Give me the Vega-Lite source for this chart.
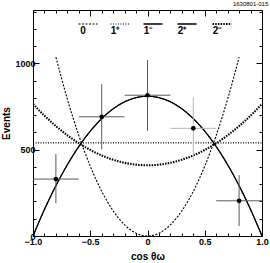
{
  "$schema": "https://vega.github.io/schema/vega-lite/v6.json",
  "width": 229,
  "height": 226,
  "autosize": {"type": "none"},
  "padding": {"left": 33, "top": 10, "right": 8, "bottom": 27},
  "background": "white",
  "config": {
    "view": {"stroke": "black", "strokeWidth": 1},
    "font": "Liberation Sans"
  },
  "title": {"text": "1630801-015", "anchor": "end", "fontSize": 6, "fontWeight": "normal", "offset": 1, "color": "black"},
  "datasets": {
    "curves": [
      {"x": -0.8, "y": 1036.8, "h": "0"}, {"x": -0.7, "y": 793.8, "h": "0"}, {"x": -0.6, "y": 583.2, "h": "0"}, {"x": -0.5, "y": 405, "h": "0"}, {"x": -0.4, "y": 259.2, "h": "0"}, {"x": -0.3, "y": 145.8, "h": "0"}, {"x": -0.2, "y": 64.8, "h": "0"}, {"x": -0.1, "y": 16.2, "h": "0"}, {"x": 0, "y": 0, "h": "0"}, {"x": 0.1, "y": 16.2, "h": "0"}, {"x": 0.2, "y": 64.8, "h": "0"}, {"x": 0.3, "y": 145.8, "h": "0"}, {"x": 0.4, "y": 259.2, "h": "0"}, {"x": 0.5, "y": 405, "h": "0"}, {"x": 0.6, "y": 583.2, "h": "0"}, {"x": 0.7, "y": 793.8, "h": "0"}, {"x": 0.8, "y": 1036.8, "h": "0"},
      {"x": -1, "y": 540, "h": "1⁺"}, {"x": 1, "y": 540, "h": "1⁺"},
      {"x": -1, "y": 0, "h": "1⁻"}, {"x": -0.9, "y": 153.9, "h": "1⁻"}, {"x": -0.8, "y": 291.6, "h": "1⁻"}, {"x": -0.7, "y": 413.1, "h": "1⁻"}, {"x": -0.6, "y": 518.4, "h": "1⁻"}, {"x": -0.5, "y": 607.5, "h": "1⁻"}, {"x": -0.4, "y": 680.4, "h": "1⁻"}, {"x": -0.3, "y": 737.1, "h": "1⁻"}, {"x": -0.2, "y": 777.6, "h": "1⁻"}, {"x": -0.1, "y": 801.9, "h": "1⁻"}, {"x": 0, "y": 810, "h": "1⁻"}, {"x": 0.1, "y": 801.9, "h": "1⁻"}, {"x": 0.2, "y": 777.6, "h": "1⁻"}, {"x": 0.3, "y": 737.1, "h": "1⁻"}, {"x": 0.4, "y": 680.4, "h": "1⁻"}, {"x": 0.5, "y": 607.5, "h": "1⁻"}, {"x": 0.6, "y": 518.4, "h": "1⁻"}, {"x": 0.7, "y": 413.1, "h": "1⁻"}, {"x": 0.8, "y": 291.6, "h": "1⁻"}, {"x": 0.9, "y": 153.9, "h": "1⁻"}, {"x": 1, "y": 0, "h": "1⁻"},
      {"x": -1, "y": 0, "h": "2⁺"}, {"x": -0.9, "y": 153.9, "h": "2⁺"}, {"x": -0.8, "y": 291.6, "h": "2⁺"}, {"x": -0.7, "y": 413.1, "h": "2⁺"}, {"x": -0.6, "y": 518.4, "h": "2⁺"}, {"x": -0.5, "y": 607.5, "h": "2⁺"}, {"x": -0.4, "y": 680.4, "h": "2⁺"}, {"x": -0.3, "y": 737.1, "h": "2⁺"}, {"x": -0.2, "y": 777.6, "h": "2⁺"}, {"x": -0.1, "y": 801.9, "h": "2⁺"}, {"x": 0, "y": 810, "h": "2⁺"}, {"x": 0.1, "y": 801.9, "h": "2⁺"}, {"x": 0.2, "y": 777.6, "h": "2⁺"}, {"x": 0.3, "y": 737.1, "h": "2⁺"}, {"x": 0.4, "y": 680.4, "h": "2⁺"}, {"x": 0.5, "y": 607.5, "h": "2⁺"}, {"x": 0.6, "y": 518.4, "h": "2⁺"}, {"x": 0.7, "y": 413.1, "h": "2⁺"}, {"x": 0.8, "y": 291.6, "h": "2⁺"}, {"x": 0.9, "y": 153.9, "h": "2⁺"}, {"x": 1, "y": 0, "h": "2⁺"},
      {"x": -1, "y": 765, "h": "2⁻"}, {"x": -0.9, "y": 697.6, "h": "2⁻"}, {"x": -0.8, "y": 637.2, "h": "2⁻"}, {"x": -0.7, "y": 584, "h": "2⁻"}, {"x": -0.6, "y": 537.8, "h": "2⁻"}, {"x": -0.5, "y": 498.8, "h": "2⁻"}, {"x": -0.4, "y": 466.8, "h": "2⁻"}, {"x": -0.3, "y": 442, "h": "2⁻"}, {"x": -0.2, "y": 424.2, "h": "2⁻"}, {"x": -0.1, "y": 413.6, "h": "2⁻"}, {"x": 0, "y": 410, "h": "2⁻"}, {"x": 0.1, "y": 413.6, "h": "2⁻"}, {"x": 0.2, "y": 424.2, "h": "2⁻"}, {"x": 0.3, "y": 442, "h": "2⁻"}, {"x": 0.4, "y": 466.8, "h": "2⁻"}, {"x": 0.5, "y": 498.8, "h": "2⁻"}, {"x": 0.6, "y": 537.8, "h": "2⁻"}, {"x": 0.7, "y": 584, "h": "2⁻"}, {"x": 0.8, "y": 637.2, "h": "2⁻"}, {"x": 0.9, "y": 697.6, "h": "2⁻"}, {"x": 1, "y": 765, "h": "2⁻"}
    ],
    "points": [
      {"x": -0.8, "xlo": -1.0, "xhi": -0.6, "y": 330, "ylo": 190, "yhi": 475},
      {"x": -0.4, "xlo": -0.6, "xhi": -0.2, "y": 691, "ylo": 502, "yhi": 880},
      {"x": 0.0, "xlo": -0.2, "xhi": 0.2, "y": 816, "ylo": 610, "yhi": 1020},
      {"x": 0.4, "xlo": 0.2, "xhi": 0.6, "y": 624, "ylo": 440, "yhi": 803},
      {"x": 0.8, "xlo": 0.6, "xhi": 1.0, "y": 204, "ylo": 58, "yhi": 353}
    ]
  },
  "layer": [
    {
      "data": {"name": "curves"},
      "mark": {"type": "line", "color": "black", "interpolate": "monotone", "clip": true},
      "encoding": {
        "x": {"field": "x", "type": "quantitative",
          "scale": {"domain": [-1, 1], "nice": false, "zero": false},
          "axis": {"orient": "bottom", "values": [-1, -0.9, -0.8, -0.7, -0.6, -0.5, -0.4, -0.3, -0.2, -0.1, 0, 0.1, 0.2, 0.3, 0.4, 0.5, 0.6, 0.7, 0.8, 0.9, 1],
            "labelExpr": "abs(round(datum.value*10)) % 5 == 0 ? (datum.value == 0 ? '0' : replace(format(datum.value, '.1f'), '-', '−')) : ''",
            "domain": false, "grid": false, "tickColor": "black",
            "tickSize": {"condition": {"test": "abs(round(datum.value*10)) % 5 == 0", "value": -6}, "value": -3},
            "labelPadding": 7, "labelFontSize": 9, "labelFontWeight": "bold", "labelColor": "black", "labelFlush": false, "labelOverlap": false,
            "title": "cos  θω", "titleFontSize": 10, "titleFontWeight": "bold", "titleColor": "black", "titlePadding": 2}},
        "y": {"field": "y", "type": "quantitative",
          "scale": {"domain": [0, 1310], "nice": false},
          "axis": {"orient": "left", "values": [0, 100, 200, 300, 400, 500, 600, 700, 800, 900, 1000, 1100, 1200, 1300],
            "labelExpr": "datum.value % 500 == 0 ? format(datum.value, 'd') : ''",
            "domain": false, "grid": false, "tickColor": "black",
            "tickSize": {"condition": {"test": "datum.value % 500 == 0", "value": -6}, "value": -3},
            "labelPadding": 4, "labelFontSize": 9, "labelFontWeight": "bold", "labelColor": "black", "labelFlush": false, "labelOverlap": false,
            "title": "Events", "titleFontSize": 10, "titleFontWeight": "bold", "titleColor": "black", "titlePadding": 3}},
        "detail": {"field": "h"},
        "strokeDash": {"field": "h", "type": "nominal",
          "scale": {"domain": ["0", "1⁺", "1⁻", "2⁺", "2⁻"], "range": [[2, 1.5], [1, 1.5], [1, 0], [1, 0], [1.5, 1.2]]},
          "legend": {"orient": "none", "legendX": 50, "legendY": 9, "direction": "horizontal", "title": null,
            "symbolType": "stroke", "symbolSize": 361, "symbolStrokeColor": "black",
            "labelFontSize": 10, "labelFontWeight": "bold", "labelColor": "black", "labelAlign": "center", "labelOffset": -10,
            "columnPadding": 8,
            "encode": {
              "labels": {"update": {"dy": {"value": 7}}},
              "symbols": {"update": {"strokeWidth": {"signal": "datum.value == '2⁻' ? 2.2 : (datum.value == '1⁻' || datum.value == '2⁺' ? 1.6 : 1.2)"}, "stroke": {"value": "black"}}}
            }}},
        "strokeWidth": {"condition": {"test": "datum.h == '2⁻'", "value": 2.1}, "value": 1.1}
      }
    },
    {
      "data": {"name": "points"},
      "mark": {"type": "rule", "strokeWidth": 1},
      "encoding": {
        "x": {"field": "xlo", "type": "quantitative", "axis": null},
        "x2": {"field": "xhi"},
        "y": {"field": "y", "type": "quantitative", "axis": null},
        "color": {"condition": {"test": "datum.x == 0.4", "value": "#b8b8b8"}, "value": "#5a5a5a"}
      }
    },
    {
      "data": {"name": "points"},
      "mark": {"type": "rule", "strokeWidth": 1},
      "encoding": {
        "x": {"field": "x", "type": "quantitative", "axis": null},
        "y": {"field": "ylo", "type": "quantitative", "axis": null},
        "y2": {"field": "yhi"},
        "color": {"condition": {"test": "datum.x == 0.4", "value": "#b8b8b8"}, "value": "#5a5a5a"}
      }
    },
    {
      "data": {"name": "points"},
      "mark": {"type": "point", "filled": true, "color": "black", "size": 22, "opacity": 1},
      "encoding": {
        "x": {"field": "x", "type": "quantitative",
          "axis": {"orient": "top", "values": [-1, -0.9, -0.8, -0.7, -0.6, -0.5, -0.4, -0.3, -0.2, -0.1, 0, 0.1, 0.2, 0.3, 0.4, 0.5, 0.6, 0.7, 0.8, 0.9, 1],
            "labels": false, "title": null, "domain": false, "grid": false, "tickColor": "black",
            "tickSize": {"condition": {"test": "abs(round(datum.value*10)) % 5 == 0", "value": -6}, "value": -3}}},
        "y": {"field": "y", "type": "quantitative",
          "axis": {"orient": "right", "values": [0, 100, 200, 300, 400, 500, 600, 700, 800, 900, 1000, 1100, 1200, 1300],
            "labels": false, "title": null, "domain": false, "grid": false, "tickColor": "black",
            "tickSize": {"condition": {"test": "datum.value % 500 == 0", "value": -6}, "value": -3}}}
      }
    }
  ],
  "resolve": {"axis": {"x": "independent", "y": "independent"}}
}
